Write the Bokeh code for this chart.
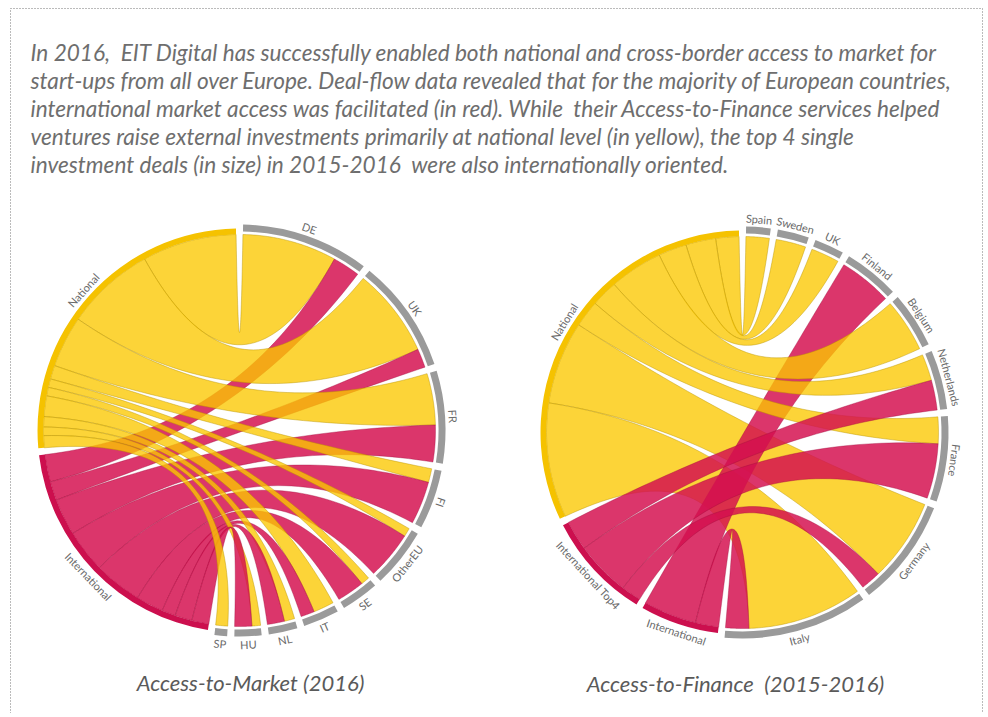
import numpy as np
from bokeh.plotting import figure
from bokeh.models import Range1d
from bokeh.core.properties import value
from bokeh.embed import file_html
from bokeh.resources import INLINE

W, H = 984, 713
Y0 = 4   # data y range bottom; data y = 717 - screen y

# ---------------- data ----------------
intro_lines = [
    "In 2016, \u00a0EIT Digital has successfully enabled both national and cross-border access to market for",
    "start-ups from all over Europe. Deal-flow data revealed that for the majority of European countries,",
    "international market access was facilitated (in red). While \u00a0their Access-to-Finance services helped",
    "ventures raise external investments primarily at national level (in yellow), the top 4 single",
    "investment deals (in size) in 2015-2016 \u00a0were also internationally oriented.",
]

# Access-to-Market (2016)
m_title = "Access-to-Market (2016)"
m_targets = ["DE", "UK", "FR", "FI", "OtherEU", "SE", "IT", "NL", "HU", "SP"]
m_national = [27.5, 26, 15, 4, 2.5, 2.5, 6, 3, 2.5, 3.5]
m_international = [8, 5.5, 10.7, 12.5, 14, 8, 4, 5, 5, 0]
m_sources = ["International", "National"]          # clockwise after the targets

# Access-to-Finance (2015-2016)
f_title = "Access-to-Finance \u00a0(2015-2016)"
f_targets = ["Spain", "Sweden", "UK", "Finland", "Belgium", "Netherlands", "France", "Germany", "Italy"]
f_national = [7, 9, 8.5, 0, 16, 8, 8, 25, 34.5]
f_top4 = [0, 0, 0, 0, 0, 9, 16.5, 6, 0]
f_international = [0, 0, 0, 16, 0, 0, 0, 0, 7]
f_sources = ["International", "International Top4", "National"]
f_draw_order = [("National", "Germany"), ("National", "Italy"), ("International", "Finland"),
                ("National", "Spain"), ("National", "Sweden"), ("National", "UK"),
                ("National", "Belgium"), ("National", "Netherlands"), ("National", "France"),
                ("International Top4", "Netherlands"), ("International Top4", "France"),
                ("International Top4", "Germany"), ("International", "Italy")]

# ---------------- styles ----------------
YELLOW_RIB = "#FBC800"
RED_RIB = "#D4104F"
SRC_COL = {"National": "#F5C200", "International": "#CC0F4E", "International Top4": "#CC0F4E"}
GREY = "#9A9A9A"
LABEL_COL = "#6a6a6a"

p = figure(width=W, height=H, x_range=Range1d(0, W), y_range=Range1d(Y0, Y0 + H),
           output_backend="svg", toolbar_location=None,
           x_axis_location=None, y_axis_location=None, min_border=0)
p.grid.visible = False
p.outline_line_color = None
p.background_fill_color = "white"


def arc_pts(cx, cy, r, a0, a1, n=48):
    t = np.radians(np.linspace(a0, a1, n))
    return cx + r * np.cos(t), cy + r * np.sin(t)


def bez(x0, y0, x1, y1, cx, cy, n=48):
    t = np.linspace(0, 1, n)
    bx = (1 - t) ** 2 * x0 + 2 * (1 - t) * t * cx + t ** 2 * x1
    by = (1 - t) ** 2 * y0 + 2 * (1 - t) * t * cy + t ** 2 * y1
    return bx, by


def chord(cx, cy, R, targets, sources, flows, draw_order, gap=2.0):
    groups = list(targets) + list(sources)
    sizes = []
    for g in groups:
        if g in targets:
            sizes.append(sum(v for (s, t), v in flows.items() if t == g))
        else:
            sizes.append(sum(v for (s, t), v in flows.items() if s == g))
    scale = (360.0 - gap * len(groups)) / sum(sizes)
    spans = {}
    a = 90.0 - gap / 2
    for g, s in zip(groups, sizes):
        spans[g] = (a - s * scale, a)
        a = a - s * scale - gap
    sub_t, sub_s = {}, {}
    for t in targets:
        hi = spans[t][1]
        for s in reversed(sources):
            v = flows.get((s, t), 0)
            if v > 0:
                sub_t[(s, t)] = (hi - v * scale, hi)
                hi -= v * scale
    for s in sources:
        hi = spans[s][1]
        for t in reversed(targets):
            v = flows.get((s, t), 0)
            if v > 0:
                sub_s[(s, t)] = (hi - v * scale, hi)
                hi -= v * scale
    for key in draw_order:
        if key not in sub_t:
            continue
        s, t = key
        tlo, thi = sub_t[key]
        slo, shi = sub_s[key]
        x1, y1 = arc_pts(cx, cy, R, tlo, thi)
        x2, y2 = bez(x1[-1], y1[-1], cx + R * np.cos(np.radians(slo)), cy + R * np.sin(np.radians(slo)), cx, cy)
        x3, y3 = arc_pts(cx, cy, R, slo, shi)
        x4, y4 = bez(x3[-1], y3[-1], x1[0], y1[0], cx, cy)
        xs = np.concatenate([x1, x2, x3, x4]).tolist()
        ys = np.concatenate([y1, y2, y3, y4]).tolist()
        if s == "National":
            p.patch(xs, ys, fill_color=YELLOW_RIB, fill_alpha=0.78,
                    line_color="#B89200", line_alpha=0.55, line_width=0.8)
        else:
            p.patch(xs, ys, fill_color=RED_RIB, fill_alpha=0.84,
                    line_color="#9E0B3B", line_alpha=0.45, line_width=0.8)
    for g in groups:
        lo, hi = spans[g]
        if g in targets:
            p.annular_wedge(x=cx, y=cy, inner_radius=R + 3, outer_radius=R + 10,
                            start_angle=lo, end_angle=hi,
                            start_angle_units="deg", end_angle_units="deg",
                            fill_color=GREY, line_color=None)
            rl = R + 18
        else:
            p.annular_wedge(x=cx, y=cy, inner_radius=R, outer_radius=R + 6,
                            start_angle=lo, end_angle=hi,
                            start_angle_units="deg", end_angle_units="deg",
                            fill_color=SRC_COL[g], line_color=None)
            rl = R + 14
        m = (lo + hi) / 2
        mn = (m + 180) % 360 - 180
        rot = mn - 90 if mn > -25 else mn + 90
        p.text(x=[cx + rl * np.cos(np.radians(m))], y=[cy + rl * np.sin(np.radians(m))],
               text=[g], angle=rot, angle_units="deg", text_align="center",
               text_baseline="middle", text_font=value("Lato"), text_font_size="11px",
               text_color=LABEL_COL)


m_flows = {}
m_order = []
for t, n, i in zip(m_targets, m_national, m_international):
    if n > 0:
        m_flows[("National", t)] = n
        m_order.append(("National", t))
    if i > 0:
        m_flows[("International", t)] = i
        m_order.append(("International", t))
chord(239, 287, 196, m_targets, m_sources, m_flows, m_order)

f_flows = {}
for t, n, q, i in zip(f_targets, f_national, f_top4, f_international):
    if n > 0:
        f_flows[("National", t)] = n
    if q > 0:
        f_flows[("International Top4", t)] = q
    if i > 0:
        f_flows[("International", t)] = i
chord(742, 285, 196, f_targets, f_sources, f_flows, f_draw_order)

p.text(x=[30] * len(intro_lines), y=[665 - 28 * k for k in range(len(intro_lines))],
       text=intro_lines, text_align="left", text_baseline="middle",
       text_font=value("Lato"), text_font_style="italic", text_font_size="22.6px",
       text_color="#6e6e6e")

p.text(x=[250, 735], y=[35, 34], text=[m_title, f_title], text_align="center",
       text_baseline="middle", text_font=value("Lato"), text_font_style="italic",
       text_font_size="22px", text_color="#5a5a5a")

p.line([10, 10], [Y0, 709], line_color="#777777", line_dash="1 2", line_width=1)
p.line([10, 982], [709, 709], line_color="#777777", line_dash="1 2", line_width=1)
p.line([982, 982], [709, Y0], line_color="#777777", line_dash="1 2", line_width=1)

open("out.html", "w").write(file_html(p, INLINE))
